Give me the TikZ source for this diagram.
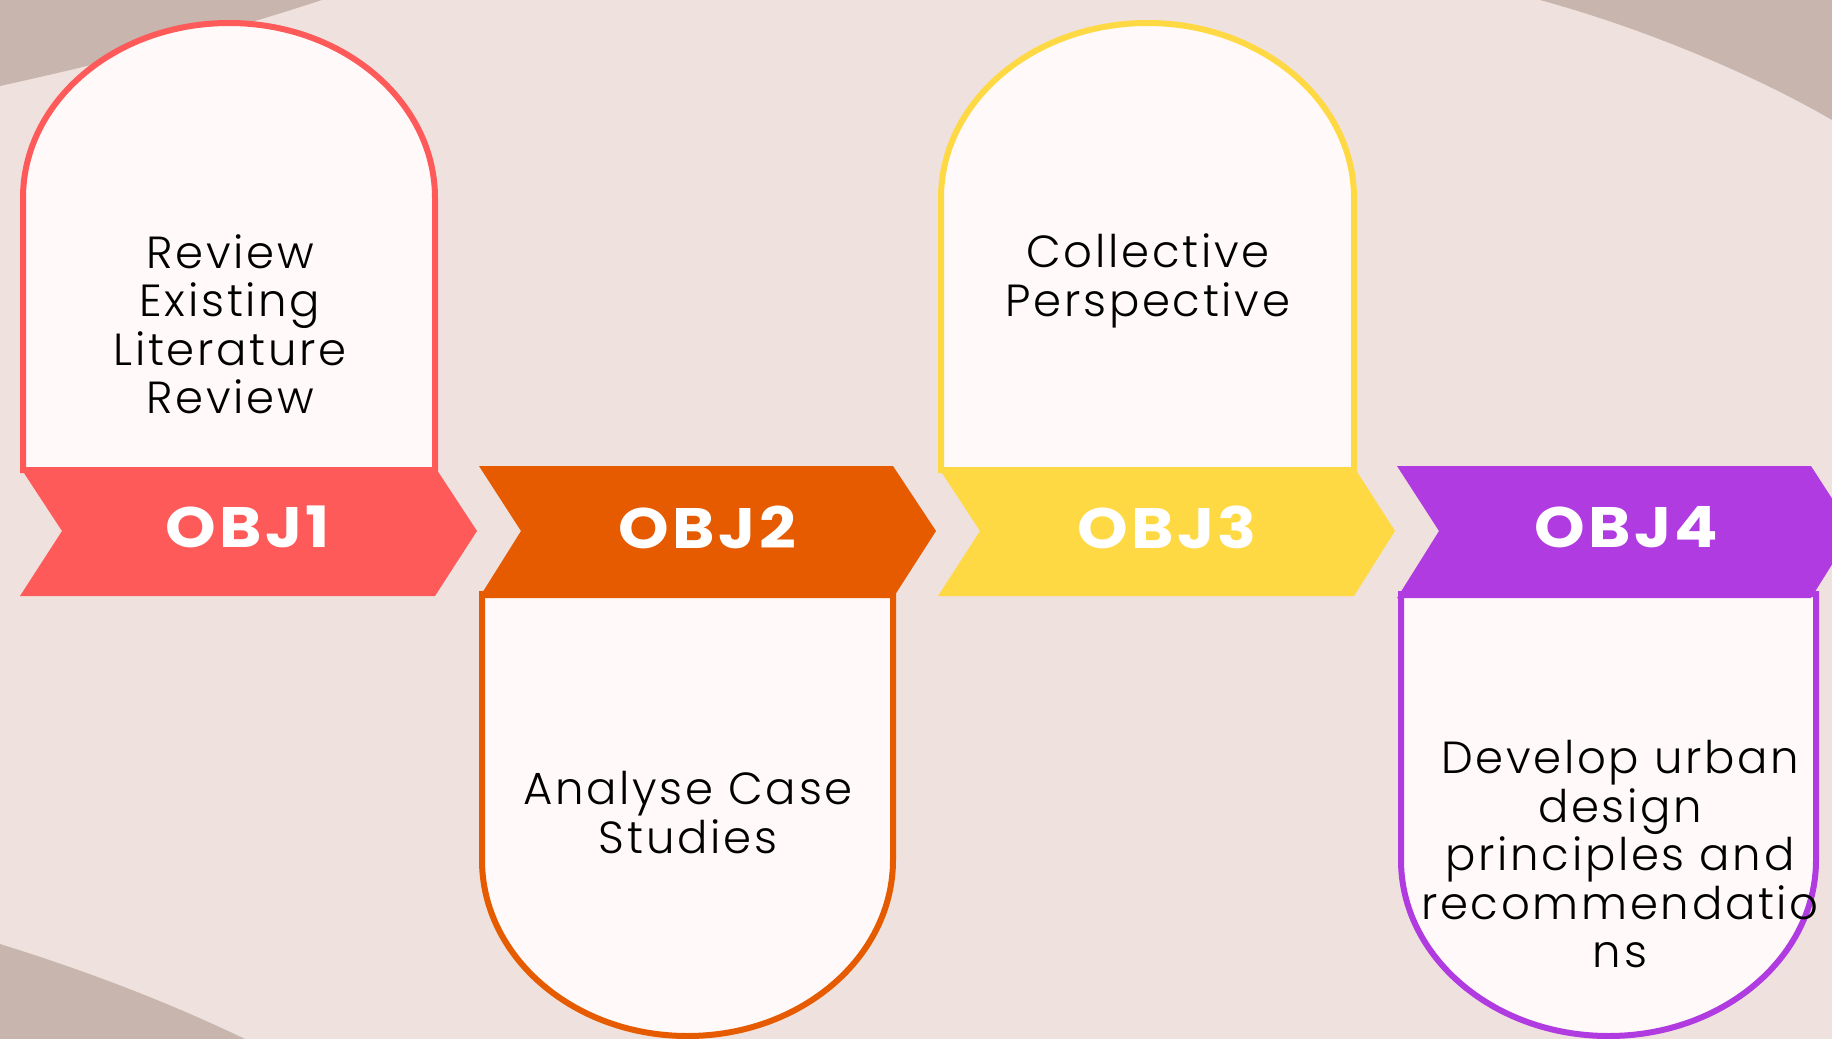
\documentclass[tikz,border=0pt]{standalone}
\usepackage{fontspec}
\setmainfont{Poppins}
\newfontfamily\labelfont{Poppins}[LetterSpace=6, FakeStretch=1.13]
\newfontfamily\bodyfont{Poppins Light}[LetterSpace=6]
\definecolor{bgc}{HTML}{EFE1DE}
\definecolor{taupe}{HTML}{C8B6AE}
\definecolor{cardw}{HTML}{FFFAF9}
\definecolor{objred}{HTML}{FF5A5A}
\definecolor{objorange}{HTML}{E65A00}
\definecolor{objyellow}{HTML}{FFD944}
\definecolor{objpurple}{HTML}{B03BE0}
\tikzset{
  card/.style={fill=cardw, draw=#1, line width=6pt, line join=miter},
  ribbon/.style={fill=#1, draw=none},
  objlabel/.style={text=white, inner sep=0pt, font={\labelfont\bfseries\fontsize{57}{62}\selectfont}},
  bodytext/.style={text=black, inner sep=0pt, align=center, font={\bodyfont\fontsize{45}{48.5}\selectfont}}
}
\begin{document}
\begin{tikzpicture}[x=1pt,y=-1pt]
\useasboundingbox (0,0) rectangle (1832,1039);
\clip (0,0) rectangle (1832,1039);
% background
\fill[bgc] (0,0) rectangle (1832,1039);
\fill[taupe] (0,0) -- (322,0) .. controls (200,40) and (90,66) .. (0,86) -- cycle;
\fill[taupe] (1540,0) -- (1832,0) -- (1832,120) .. controls (1760,78) and (1650,30) .. (1540,0) -- cycle;
\fill[taupe] (0,944) .. controls (90,972) and (170,1003) .. (245,1039) -- (0,1039) -- cycle;
% cards
\path[card=objred] (23,470) -- (23,198) arc[start angle=180, end angle=360, x radius=206, y radius=175] -- (435,470) -- cycle;
\path[card=objorange] (482,594) -- (482,860) arc[start angle=180, end angle=0, x radius=205.5, y radius=176] -- (893,594) -- cycle;
\path[card=objyellow] (941,470) -- (941,198) arc[start angle=180, end angle=360, x radius=206.5, y radius=175] -- (1354,470) -- cycle;
\path[card=objpurple] (1401,594) -- (1401,860) arc[start angle=180, end angle=0, x radius=207.5, y radius=176] -- (1816,594) -- cycle;
% ribbons
\fill[ribbon=objred] (20,467) -- (435,467) -- (477,531) -- (435,596) -- (20,596) -- (62,531) -- cycle;
\fill[ribbon=objorange] (479,466) -- (893,466) -- (936,531) -- (893,598) -- (479,598) -- (521,531) -- cycle;
\fill[ribbon=objyellow] (938,467) -- (1354,467) -- (1395,531) -- (1354,596) -- (938,596) -- (980,531) -- cycle;
\fill[ribbon=objpurple] (1397,466) -- (1811,466) -- (1853,531) -- (1811,598) -- (1397,598) -- (1439,531) -- cycle;
% labels
\node[objlabel] (l1) at (247.5,527) {OBJ1};
\node[objlabel] (l2) at (707.5,527) {OBJ2};
\node[objlabel] (l3) at (1167,527) {OBJ3};
\node[objlabel] (l4) at (1626.5,527) {OBJ4};
% texts
\node[bodytext] (t1) at (230,324.5) {Review\\Existing\\Literature\\Review};
\node[bodytext] (t2) at (688,812.5) {Analyse Case\\Studies};
\node[bodytext] (t3) at (1148,281) {Collective\\Perspective};
\node[bodytext] (t4) at (1620,854.5) {Develop urban\\design\\principles and\\recommendatio\\ns};
\end{tikzpicture}
\end{document}
